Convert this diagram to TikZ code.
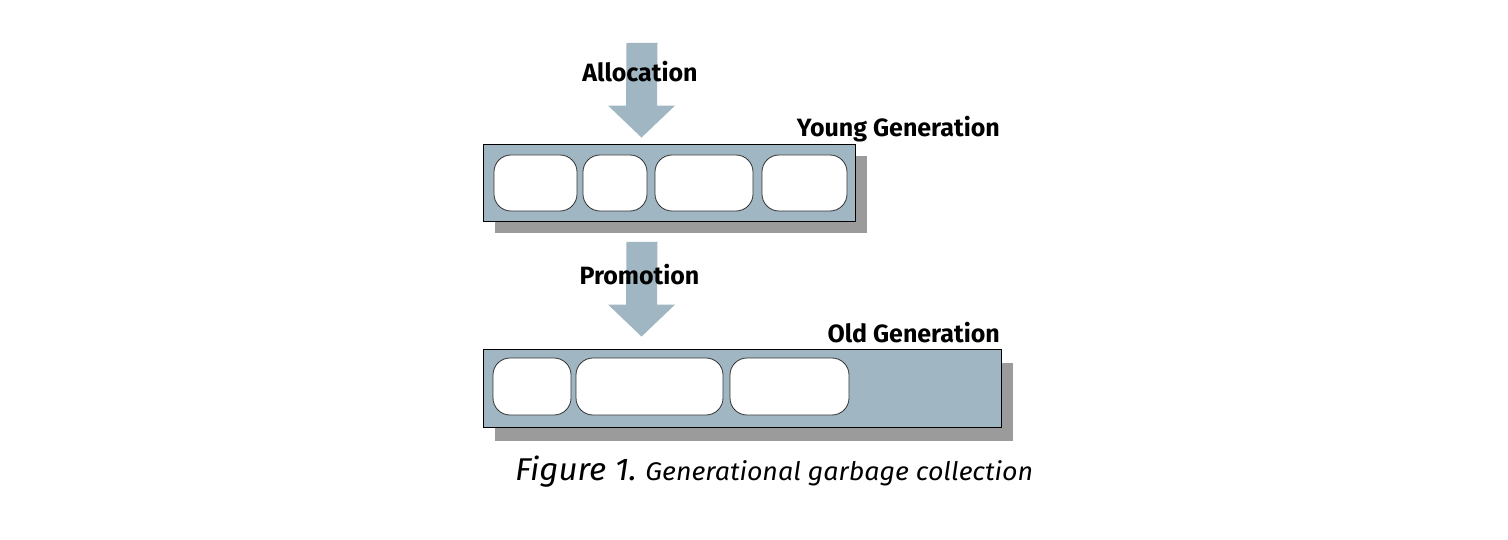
\documentclass[tikz,border=0pt]{standalone}
\usepackage{fontspec}
\setmainfont{Fira Sans}
\newfontfamily\captionfont[FakeStretch=1.05]{Fira Sans}
\usetikzlibrary{calc,shadows}

\definecolor{heapblue}{RGB}{160,182,194}
\definecolor{shadowgray}{RGB}{155,155,155}
\definecolor{cellline}{RGB}{50,50,50}

% broad flow arrow from a tail coordinate down to a tip coordinate
\newcommand\fatarrow[2]{%
  \fill[flow] ($(#1)+(-15.5,0)$) -- ($(#1)+(15.5,0)$)
    -- ($(#2)+(15.5,-32)$) -- ($(#2)+(33.5,-32)$) -- (#2)
    -- ($(#2)+(-33.5,-32)$) -- ($(#2)+(-15.5,-32)$) -- cycle;}

\tikzset{
  flow/.style={fill=heapblue},
  heap/.style={draw=black, line width=0.9pt, fill=heapblue, inner sep=0pt,
    drop shadow={shadow xshift=12pt, shadow yshift=-#1, fill=shadowgray, opacity=1}},
  cell/.style={draw=cellline, line width=0.8pt, fill=white, rounded corners=17pt,
    inner sep=0pt},
  label/.style={font=\bfseries\fontsize{25}{28}\selectfont, inner sep=0pt},
}

\begin{document}
\begin{tikzpicture}[x=1pt, y=-1pt]
\useasboundingbox[fill=white] (0,0) rectangle (1508,540);

% young generation with its objects
\node[heap=12pt, minimum width=372pt, minimum height=77pt] (young) at (669,182.5) {};
\node[cell, minimum width=83pt, minimum height=56pt] (y1) at (535.5,183) {};
\node[cell, minimum width=64pt, minimum height=56pt] (y2) at (615,183) {};
\node[cell, minimum width=98pt, minimum height=56pt] (y3) at (704,183) {};
\node[cell, minimum width=85pt, minimum height=56pt] (y4) at (804.5,183) {};

% old generation with its objects
\node[heap=14pt, minimum width=518pt, minimum height=78pt] (old) at (742,388) {};
\node[cell, minimum width=78pt, minimum height=57pt] (o1) at (532,386.5) {};
\node[cell, minimum width=147pt, minimum height=57pt] (o2) at (649.5,386.5) {};
\node[cell, minimum width=119pt, minimum height=57pt] (o3) at (789.5,386.5) {};

% allocation and promotion arrows
\coordinate (alloc-tail) at (642,43);
\coordinate (alloc-tip) at ($(young.north west)+(159,-6)$);
\fatarrow{alloc-tail}{alloc-tip}
\coordinate (promo-tail) at (642,242);
\coordinate (promo-tip) at ($(old.north west)+(159,-12)$);
\fatarrow{promo-tail}{promo-tip}

% labels
\node[label, anchor=base] (alloc) at (640,82) {Allocation};
\node[label, anchor=base] (promo) at (639.5,284) {Promotion};
\node[label, anchor=base east] (younglbl) at (1000,137) {Young Generation};
\node[label, anchor=base east] (oldlbl) at (1000,342) {Old Generation};

% caption
\node[anchor=base west, inner sep=0pt, font=\captionfont\itshape] (caption) at (515,480)
  {\fontsize{31.5}{34}\selectfont Figure 1.\ \fontsize{25.5}{28}\selectfont Generational garbage collection};
\end{tikzpicture}
\end{document}
